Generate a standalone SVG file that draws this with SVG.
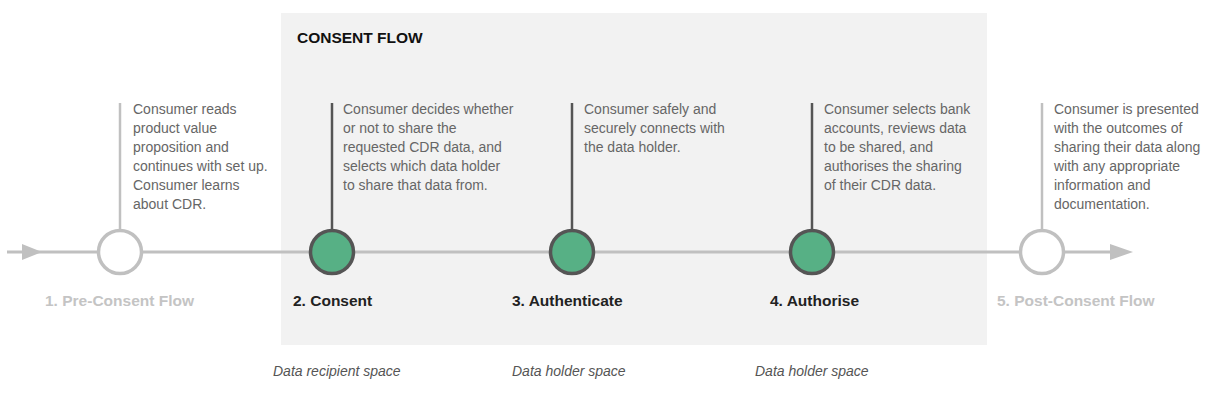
<svg xmlns="http://www.w3.org/2000/svg" width="1218" height="406" viewBox="0 0 1218 406">
<style>
.body{font-family:"Liberation Sans",Arial,sans-serif;font-size:14px;fill:#666}
.lbl{font-family:"Liberation Sans",Arial,sans-serif;font-size:15.5px;font-weight:bold}
.on{fill:#222}
.off{fill:#c4c4c4}
.space{font-family:"Liberation Sans",Arial,sans-serif;font-size:14px;font-style:italic;fill:#555}
.title{font-family:"Liberation Sans",Arial,sans-serif;font-size:15.5px;font-weight:bold;fill:#111}
.stemOn{stroke:#555;stroke-width:2.5}
.stemOff{stroke:#c0c0c0;stroke-width:2.5}
.cOn{fill:#57b085;stroke:#555;stroke-width:3.5}
.cOff{fill:#fff;stroke:#c0c0c0;stroke-width:3.5}
</style>
<rect width="1218" height="406" fill="#fff"/>
<rect id="panel" x="281" y="13" width="706" height="332" fill="#f2f2f2"/>
<text class="title" x="297" y="43">CONSENT FLOW</text>
<g id="connectors">
<line x1="7" y1="252" x2="1112" y2="252" stroke="#c0c0c0" stroke-width="3"/>
<polygon points="22,244 42,252 22,260" fill="#c0c0c0"/>
<polygon points="1110,244 1133,252 1110,260" fill="#c0c0c0"/>
</g>
<g id="node1">
<line class="stemOff" x1="120" y1="103" x2="120" y2="230"/>
<circle class="cOff" cx="120" cy="252" r="21.5"/>
<text class="body" x="133"><tspan x="133" y="114">Consumer reads</tspan><tspan x="133" y="133">product value</tspan><tspan x="133" y="152">proposition and</tspan><tspan x="133" y="171">continues with set up.</tspan><tspan x="133" y="190">Consumer learns</tspan><tspan x="133" y="209">about CDR.</tspan></text>
<text class="lbl off" x="45" y="306">1. Pre-Consent Flow</text>
</g>
<g id="node2">
<line class="stemOn" x1="332" y1="103" x2="332" y2="230"/>
<circle class="cOn" cx="332" cy="252" r="21.5"/>
<text class="body"><tspan x="343" y="114">Consumer decides whether</tspan><tspan x="343" y="133">or not to share the</tspan><tspan x="343" y="152">requested CDR data, and</tspan><tspan x="343" y="171">selects which data holder</tspan><tspan x="343" y="190">to share that data from.</tspan></text>
<text class="lbl on" x="293" y="306">2. Consent</text>
<text class="space" x="273" y="376">Data recipient space</text>
</g>
<g id="node3">
<line class="stemOn" x1="572" y1="103" x2="572" y2="230"/>
<circle class="cOn" cx="572" cy="252" r="21.5"/>
<text class="body"><tspan x="584" y="114">Consumer safely and</tspan><tspan x="584" y="133">securely connects with</tspan><tspan x="584" y="152">the data holder.</tspan></text>
<text class="lbl on" x="512" y="306">3. Authenticate</text>
<text class="space" x="512" y="376">Data holder space</text>
</g>
<g id="node4">
<line class="stemOn" x1="812" y1="103" x2="812" y2="230"/>
<circle class="cOn" cx="812" cy="252" r="21.5"/>
<text class="body"><tspan x="824" y="114">Consumer selects bank</tspan><tspan x="824" y="133">accounts, reviews data</tspan><tspan x="824" y="152">to be shared, and</tspan><tspan x="824" y="171">authorises the sharing</tspan><tspan x="824" y="190">of their CDR data.</tspan></text>
<text class="lbl on" x="770" y="306">4. Authorise</text>
<text class="space" x="755" y="376">Data holder space</text>
</g>
<g id="node5">
<line class="stemOff" x1="1042" y1="103" x2="1042" y2="230"/>
<circle class="cOff" cx="1042" cy="252" r="21.5"/>
<text class="body"><tspan x="1054" y="114">Consumer is presented</tspan><tspan x="1054" y="133">with the outcomes of</tspan><tspan x="1054" y="152">sharing their data along</tspan><tspan x="1054" y="171">with any appropriate</tspan><tspan x="1054" y="190">information and</tspan><tspan x="1054" y="209">documentation.</tspan></text>
<text class="lbl off" x="997" y="306">5. Post-Consent Flow</text>
</g>
</svg>
